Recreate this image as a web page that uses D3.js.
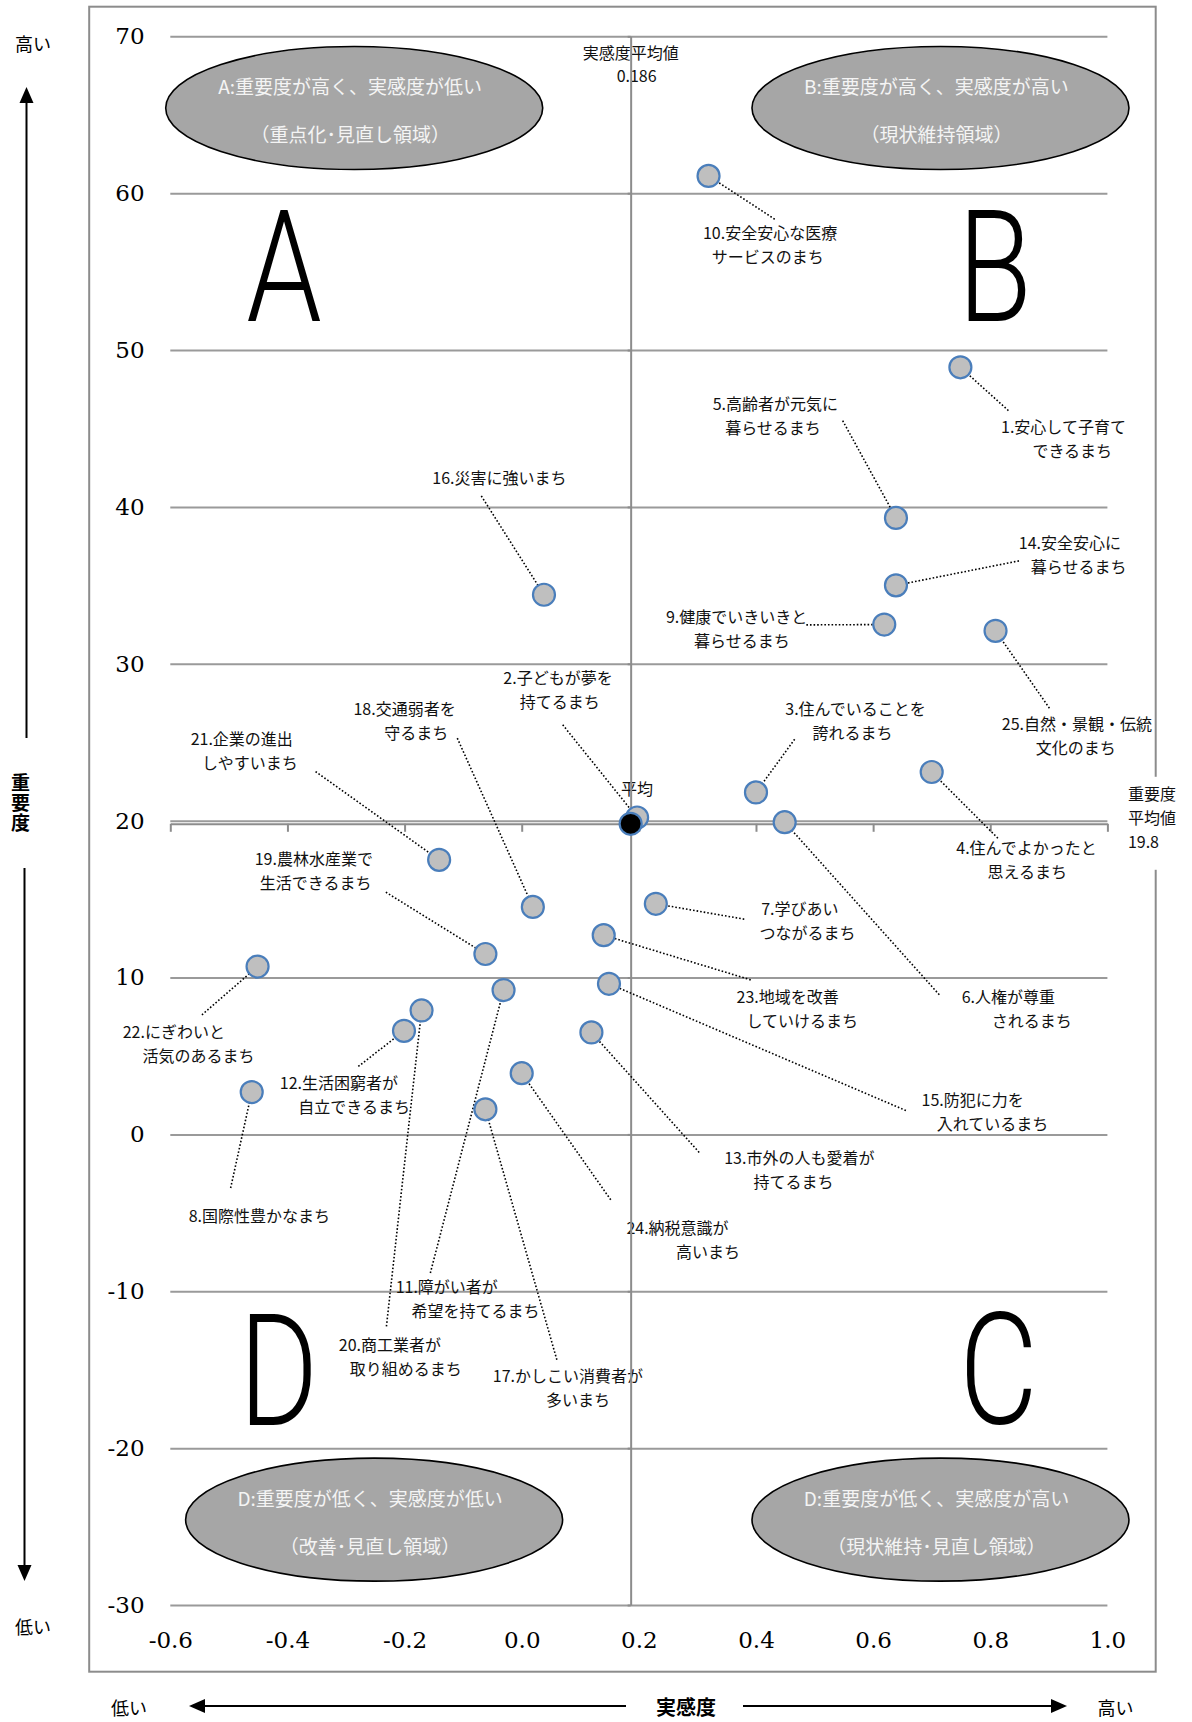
<!DOCTYPE html>
<html lang="ja">
<head>
<meta charset="utf-8">
<script src="https://cdn.jsdelivr.net/npm/d3@7/dist/d3.min.js"></script>
<style>
  body { margin: 0; background: #fff; }
  svg text { font-family: "Noto Sans CJK JP", "Noto Sans", sans-serif; }
</style>
</head>
<body>
<svg id="chart" width="1192" height="1722"></svg>
<script>
// ---- data ----
// item labels (two lines as printed), numbered 1..25
const items = [
  ["1.安心して子育て", "できるまち"],
  ["2.子どもが夢を", "持てるまち"],
  ["3.住んでいることを", "誇れるまち"],
  ["4.住んでよかったと", "思えるまち"],
  ["5.高齢者が元気に", "暮らせるまち"],
  ["6.人権が尊重", "されるまち"],
  ["7.学びあい", "つながるまち"],
  ["8.国際性豊かなまち"],
  ["9.健康でいきいきと", "暮らせるまち"],
  ["10.安全安心な医療", "サービスのまち"],
  ["11.障がい者が", "希望を持てるまち"],
  ["12.生活困窮者が", "自立できるまち"],
  ["13.市外の人も愛着が", "持てるまち"],
  ["14.安全安心に", "暮らせるまち"],
  ["15.防犯に力を", "入れているまち"],
  ["16.災害に強いまち"],
  ["17.かしこい消費者が", "多いまち"],
  ["18.交通弱者を", "守るまち"],
  ["19.農林水産業で", "生活できるまち"],
  ["20.商工業者が", "取り組めるまち"],
  ["21.企業の進出", "しやすいまち"],
  ["22.にぎわいと", "活気のあるまち"],
  ["23.地域を改善", "していけるまち"],
  ["24.納税意識が", "高いまち"],
  ["25.自然・景観・伝統", "文化のまち"]
];
// 実感度 (x)
const jikkando = [0.749, 0.197, 0.400, 0.700, 0.639, 0.449, 0.229, -0.461, 0.619, 0.319,
                  -0.031, -0.201, 0.119, 0.639, 0.149, 0.038, -0.062, 0.019, -0.062, -0.171,
                  -0.141, -0.451, 0.140, 0.000, 0.809];
// 重要度 (y)
const juyodo = [48.9, 20.2, 21.8, 23.1, 39.3, 19.9, 14.7, 2.7, 32.5, 61.1,
                9.2, 6.6, 6.5, 35.0, 9.6, 34.4, 1.6, 14.5, 11.5, 7.9,
                17.5, 10.7, 12.7, 3.9, 32.1];
const avgX = 0.186;
const avgY = 19.8;
const xTicks = [-0.6, -0.4, -0.2, 0.0, 0.2, 0.4, 0.6, 0.8, 1.0];
const yTicks = [70, 60, 50, 40, 30, 20, 10, 0, -10, -20, -30];

// label placement in data units: [line1 x, line1 y, line2 x, leader end x, leader end y]
const labelLayout = [
  [0.925, 45.16, 0.940, 0.831, 46.14],
  [0.062, 29.18, 0.065, 0.070, 26.11],
  [0.570, 27.21, 0.565, 0.466, 25.19],
  [0.862, 18.31, 0.863, 0.813, 18.88],
  [0.433, 46.65, 0.429, 0.548, 45.50],
  [0.831, 8.83, 0.871, 0.713, 8.90],
  [0.475, 14.46, 0.488, 0.380, 13.72],
  [-0.448, -5.17, null, -0.497, -3.42],
  [0.367, 33.07, 0.376, 0.486, 32.48],
  [0.424, 57.53, 0.420, 0.432, 58.34],
  [-0.128, -9.69, -0.079, -0.156, -8.84],
  [-0.312, 3.37, -0.286, -0.279, 4.33],
  [0.474, -1.41, 0.464, 0.303, -1.15],
  [0.936, 37.79, 0.951, 0.849, 36.56],
  [0.770, 2.25, 0.804, 0.656, 1.52],
  [-0.038, 41.93, null, -0.069, 40.70],
  [0.079, -15.37, 0.096, 0.060, -14.37],
  [-0.200, 27.17, -0.180, -0.110, 25.26],
  [-0.355, 17.65, -0.352, -0.232, 15.44],
  [-0.225, -13.37, -0.198, -0.231, -12.24],
  [-0.478, 25.26, -0.464, -0.352, 23.13],
  [-0.594, 6.56, -0.552, -0.546, 7.62],
  [0.454, 8.83, 0.479, 0.391, 9.85],
  [0.266, -5.93, 0.318, 0.152, -4.17],
  [0.948, 26.21, 0.946, 0.901, 27.17]
];

// quadrant ovals and big letters
const zones = [
  { lines: ["A:重要度が高く、実感度が低い", "（重点化･見直し領域）"], x: -0.286, y: 65.43 },
  { lines: ["B:重要度が高く、実感度が高い", "（現状維持領域）"], x: 0.715, y: 65.43 },
  { lines: ["D:重要度が低く、実感度が低い", "（改善･見直し領域）"], x: -0.252, y: -24.56 },
  { lines: ["D:重要度が低く、実感度が高い", "（現状維持･見直し領域）"], x: 0.715, y: -24.56 }
];
const letters = [
  { t: "A", x: -0.406, y: 51.87 },
  { t: "B", x: 0.808, y: 51.87 },
  { t: "D", x: -0.415, y: -18.51 },
  { t: "C", x: 0.814, y: -18.40 }
];

// ---- chart ----
const svg = d3.select("#chart");
const x = d3.scaleLinear().domain([-0.6, 1.0]).range([170.3, 1107.4]);
const y = d3.scaleLinear().domain([-30, 70]).range([1605, 36.3]);
const plotW = x(1.0) - x(-0.6);

// outer frame
svg.append("rect")
  .attr("x", 89.2).attr("y", 6.7).attr("width", 1066.5).attr("height", 1665)
  .attr("fill", "#fff").attr("stroke", "#8c8c8c").attr("stroke-width", 2);

// horizontal gridlines
svg.append("g")
  .attr("transform", `translate(${x(-0.6)},0)`)
  .call(d3.axisLeft(y).tickValues(yTicks).tickSize(-plotW).tickFormat(""))
  .call(g => g.select(".domain").remove())
  .selectAll("line").attr("stroke", "#9a9a9a").attr("stroke-width", 2);

// y tick labels
svg.append("g")
  .attr("transform", `translate(${x(-0.6)},0)`)
  .call(d3.axisLeft(y).tickValues(yTicks).tickSize(0).tickPadding(25.7).tickFormat(d => String(d)))
  .call(g => g.select(".domain").remove())
  .selectAll("text")
  .style("font-family", "'DejaVu Serif', serif").attr("font-size", 23).attr("fill", "#000");

// x tick labels (low position)
svg.append("g")
  .attr("transform", `translate(0,${y(-30)})`)
  .call(d3.axisBottom(x).tickValues(xTicks).tickSize(0).tickFormat(d => d.toFixed(1)))
  .call(g => g.select(".domain").remove())
  .selectAll("text")
  .attr("y", 35).attr("dy", "0.35em")
  .style("font-family", "'DejaVu Serif', serif").attr("font-size", 23).attr("fill", "#000");

// ovals
const zoneG = svg.append("g");
zones.forEach(z => {
  zoneG.append("ellipse")
    .attr("cx", x(z.x)).attr("cy", y(z.y)).attr("rx", 188.5).attr("ry", 61.5)
    .attr("fill", "#a6a6a6").attr("stroke", "#000").attr("stroke-width", 1.6);
  z.lines.forEach((t, k) => {
    zoneG.append("text")
      .attr("x", x(z.x) - 4).attr("y", y(z.y) - 22 + k * 48)
      .attr("text-anchor", "middle").attr("dominant-baseline", "central")
      .attr("font-size", 19).attr("fill", "#f4f4f4").text(t);
  });
});

// big quadrant letters
svg.append("g").selectAll("text").data(letters).join("text")
  .attr("transform", d => `translate(${x(d.x)},${y(d.y)}) scale(0.78,1)`)
  .attr("text-anchor", "middle")
  .style("font-family", "Roboto, sans-serif").attr("font-weight", 300)
  .attr("font-size", 155).attr("fill", "#000")
  .text(d => d.t);

// item labels
const lblG = svg.append("g");
items.forEach((lines, i) => {
  const p = labelLayout[i];
  lines.forEach((t, k) => {
    lblG.append("text")
      .attr("x", x(k === 0 ? p[0] : p[2]))
      .attr("y", y(p[1]) + k * 24)
      .attr("text-anchor", "middle").attr("dominant-baseline", "central")
      .attr("font-size", 16).attr("fill", "#111").text(t);
  });
});

// average annotations
const noteG = svg.append("g").attr("font-size", 16).attr("fill", "#111");
noteG.append("text").attr("x", x(avgX)).attr("y", y(69.0))
  .attr("text-anchor", "middle").attr("dominant-baseline", "central").text("実感度平均値");
noteG.append("text").attr("x", x(avgX) + 6).attr("y", y(67.53))
  .attr("text-anchor", "middle").attr("dominant-baseline", "central").text(String(avgX));
noteG.append("text").attr("x", x(0.197)).attr("y", y(22.07))
  .attr("text-anchor", "middle").attr("dominant-baseline", "central").text("平均");
noteG.append("rect").attr("x", 1122).attr("y", y(avgY) - 47).attr("width", 64).attr("height", 93).attr("fill", "#fff");
["重要度", "平均値", String(avgY)].forEach((t, k) => {
  noteG.append("text").attr("x", x(1.035)).attr("y", y(21.75) + k * 24)
    .attr("dominant-baseline", "central").text(t);
});

// vertical axis at average 実感度
svg.append("g")
  .attr("transform", `translate(${x(avgX)},0)`)
  .call(d3.axisLeft(y).tickValues(yTicks).tickSize(3).tickSizeOuter(0).tickFormat(""))
  .call(g => g.select(".domain").attr("stroke", "#8c8c8c").attr("stroke-width", 2))
  .selectAll("line").attr("stroke", "#8c8c8c").attr("stroke-width", 2);

// horizontal axis at average 重要度 with tick marks
svg.append("g")
  .attr("transform", `translate(0,${y(avgY)})`)
  .call(d3.axisBottom(x).tickValues(xTicks).tickSize(8).tickSizeOuter(0).tickFormat(""))
  .call(g => g.select(".domain").attr("stroke", "#8c8c8c").attr("stroke-width", 2))
  .selectAll("line").attr("stroke", "#8c8c8c").attr("stroke-width", 2);

// leader lines
svg.append("g").selectAll("line").data(d3.range(items.length)).join("line")
  .attr("x1", i => x(labelLayout[i][3])).attr("y1", i => y(labelLayout[i][4]))
  .attr("x2", i => x(jikkando[i])).attr("y2", i => y(juyodo[i]))
  .attr("stroke", "#000").attr("stroke-width", 1.6).attr("stroke-dasharray", "1.6,2");

// points
svg.append("g").selectAll("circle").data(d3.range(items.length)).join("circle")
  .attr("cx", i => x(jikkando[i])).attr("cy", i => y(juyodo[i])).attr("r", 11)
  .attr("fill", "#bfbfbf").attr("stroke", "#4a7ebb").attr("stroke-width", 2.2);

// average point
svg.append("circle")
  .attr("cx", x(avgX)).attr("cy", y(avgY)).attr("r", 11)
  .attr("fill", "#000").attr("stroke", "#4a7ebb").attr("stroke-width", 2.2);

// outside axis captions and arrows
const outG = svg.append("g").attr("fill", "#000");
function arrowHead(tx, ty, dir) {
  // dir: up, down, left, right
  let pts;
  if (dir === "up") pts = [[tx, ty], [tx - 7, ty + 16], [tx + 7, ty + 16]];
  if (dir === "down") pts = [[tx, ty], [tx - 7, ty - 16], [tx + 7, ty - 16]];
  if (dir === "left") pts = [[tx, ty], [tx + 16, ty - 7], [tx + 16, ty + 7]];
  if (dir === "right") pts = [[tx, ty], [tx - 16, ty - 7], [tx - 16, ty + 7]];
  outG.append("polygon").attr("points", pts.map(p => p.join(",")).join(" "));
}
outG.append("line").attr("x1", 26.5).attr("y1", 738).attr("x2", 26.5).attr("y2", 100)
  .attr("stroke", "#000").attr("stroke-width", 2);
arrowHead(26.5, 87, "up");
outG.append("line").attr("x1", 24.5).attr("y1", 868).attr("x2", 24.5).attr("y2", 1568)
  .attr("stroke", "#000").attr("stroke-width", 2);
arrowHead(24.5, 1581, "down");
outG.append("text").attr("x", 33).attr("y", 43).attr("text-anchor", "middle")
  .attr("dominant-baseline", "central").attr("font-size", 18).text("高い");
outG.append("text").attr("x", 33).attr("y", 1626).attr("text-anchor", "middle")
  .attr("dominant-baseline", "central").attr("font-size", 18).text("低い");
// vertical axis title
outG.append("text")
  .attr("x", 20.5).attr("y", 803)
  .style("writing-mode", "vertical-rl").style("text-orientation", "upright")
  .attr("text-anchor", "middle").attr("font-size", 19).attr("font-weight", 700)
  .attr("letter-spacing", 1)
  .text("重要度");

outG.append("line").attr("x1", 626).attr("y1", 1706).attr("x2", 200).attr("y2", 1706)
  .attr("stroke", "#000").attr("stroke-width", 2);
arrowHead(189, 1706, "left");
outG.append("line").attr("x1", 743).attr("y1", 1706).attr("x2", 1055).attr("y2", 1706)
  .attr("stroke", "#000").attr("stroke-width", 2);
arrowHead(1067, 1706, "right");
outG.append("text").attr("x", 129).attr("y", 1707).attr("text-anchor", "middle")
  .attr("dominant-baseline", "central").attr("font-size", 18).text("低い");
outG.append("text").attr("x", 686).attr("y", 1706).attr("text-anchor", "middle")
  .attr("dominant-baseline", "central").attr("font-size", 20).attr("font-weight", 700).text("実感度");
outG.append("text").attr("x", 1115.5).attr("y", 1707).attr("text-anchor", "middle")
  .attr("dominant-baseline", "central").attr("font-size", 18).text("高い");
</script>
</body>
</html>
